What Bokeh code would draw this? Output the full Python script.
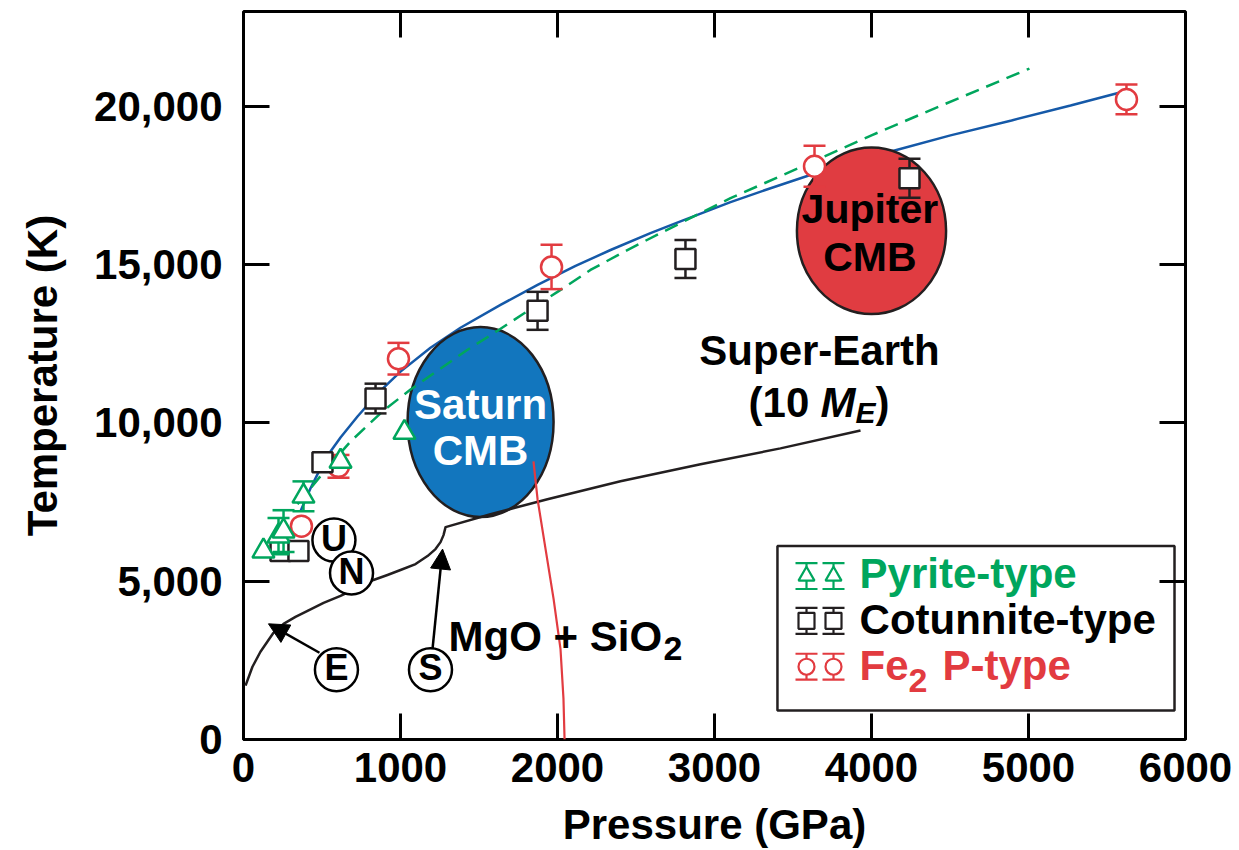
import numpy as np
from bokeh.plotting import figure
from bokeh.models import Range1d, LinearAxis, FixedTicker, Arrow, NormalHead, Label, NumeralTickFormatter
from bokeh.core.properties import value
from bokeh.embed import file_html
from bokeh.resources import INLINE

# ---------------- data ----------------
x_ticks = [0, 1000, 2000, 3000, 4000, 5000, 6000]
y_ticks = [0, 5000, 10000, 15000, 20000]

pyrite_p = [127, 223, 255, 382, 618, 1025]
pyrite_t = [5950, 6425, 6585, 7685, 8787, 9700]
pyrite_err = [0, 570, 660, 470, 0, 0]

cotunnite_p = [236, 350, 503, 841, 1873, 2815, 4242]
cotunnite_t = [5953, 5953, 8756, 10772, 13543, 15181, 17732]
cotunnite_err = [0, 0, 0, 470, 600, 600, 615]

fe2p_p = [369, 605, 987, 1962, 3637, 5624]
fe2p_t = [6740, 8630, 12031, 14929, 18110, 20220]
fe2p_err = [0, 360, 500, 700, 650, 470]

blue_p = [363, 427, 490, 554, 618, 726, 860, 1000, 1191, 1382, 1637, 1873, 2115, 2338, 2592,
          2771, 3102, 3357, 3643, 3898, 4153, 4503, 4892, 5268, 5631]
blue_t = [7213, 7937, 8567, 9102, 9543, 10205, 10961, 11622, 12378, 13008, 13732, 14362, 14961, 15465, 16000,
          16346, 16976, 17417, 17890, 18268, 18614, 19087, 19559, 20031, 20504]

green_p = [344, 510, 682, 892, 1064, 1236, 1427, 1618, 1783, 2000, 2210, 2433, 2656, 3102,
           3548, 4000, 4446, 5006]
green_t = [7433, 8441, 9417, 10394, 11055, 11654, 12315, 12913, 13449, 14142, 14835, 15433, 16000, 17102,
           18079, 19087, 20031, 21197]

earth_p = [13, 57, 108, 191, 255, 331, 408, 510, 618, 726, 828, 917, 1000, 1096, 1172, 1223, 1255,
           1274, 1287, 1573, 1936, 2401, 2911, 3420, 3930]
earth_t = [1701, 2299, 2772, 3370, 3654, 3874, 4063, 4315, 4535, 4787, 5039, 5197, 5354, 5543, 5795, 6016, 6236,
           6457, 6709, 7118, 7591, 8157, 8693, 9197, 9764]

red_p = [1847, 1873, 1924, 1975, 2019, 2038, 2045]
red_t = [8787, 7591, 6016, 4441, 2866, 1291, 0]

saturn = dict(x=1510, y=10030, w=930, h=6000)
jupiter = dict(x=4000, y=16070, w=950, h=5260)

planet_letters = ["U", "N", "E", "S"]
planet_p = [576, 688, 592, 1191]
planet_t = [6299, 5260, 2205, 2205]

# ---------------- styles ----------------
GREEN = "#00a65d"
RED = "#e23b40"
BLACK = "#231f20"
BLUE_LINE = "#1559a8"
SATURN_FILL = "#1276be"
JUPITER_FILL = "#e03c41"
FONT = value("Liberation Sans")
YO = -15  # baseline correction for text glyphs (pixels)

p = figure(width=1239, height=850, x_range=Range1d(0, 6000), y_range=Range1d(0, 23000),
           output_backend="svg", toolbar_location=None,
           min_border_left=243, min_border_right=54, min_border_top=11, min_border_bottom=109)
p.grid.visible = False
p.outline_line_color = "black"
p.outline_line_width = 3
p.background_fill_color = "white"
p.border_fill_color = "white"

def style_axis(ax, labels=True):
    ax.major_tick_in = 26
    ax.major_tick_out = 0
    ax.minor_tick_line_color = None
    ax.major_tick_line_width = 3
    ax.major_tick_line_color = "black"
    ax.axis_line_color = None
    if labels:
        ax.major_label_text_font = "Liberation Sans"
        ax.major_label_text_font_style = "bold"
        ax.major_label_text_font_size = "42px"
        ax.major_label_text_color = "black"
        ax.axis_label_text_font = "Liberation Sans"
        ax.axis_label_text_font_style = "bold"
        ax.axis_label_text_font_size = "42px"
        ax.axis_label_text_color = "black"
    else:
        ax.major_label_text_font_size = "0px"
        ax.major_label_text_color = None
        ax.major_label_standoff = 0

p.xaxis.ticker = FixedTicker(ticks=x_ticks)
p.yaxis.ticker = FixedTicker(ticks=y_ticks)
p.yaxis.formatter = NumeralTickFormatter(format="0,0")
p.xaxis.axis_label = "Pressure (GPa)"
p.yaxis.axis_label = "Temperature (K)"
style_axis(p.xaxis[0]); style_axis(p.yaxis[0])
p.xaxis.major_label_standoff = 13
p.xaxis.axis_label_standoff = 16
p.yaxis.major_label_standoff = 21
p.yaxis.axis_label_standoff = 25

top_ax = LinearAxis(ticker=FixedTicker(ticks=x_ticks[1:-1]))
right_ax = LinearAxis(ticker=FixedTicker(ticks=y_ticks[1:]))
style_axis(top_ax, False); style_axis(right_ax, False)
p.add_layout(top_ax, "above")
p.add_layout(right_ax, "right")

# curves and regions
p.line(blue_p, blue_t, line_color=BLUE_LINE, line_width=2.5)
p.ellipse(x=[saturn["x"]], y=[saturn["y"]], width=[saturn["w"]], height=[saturn["h"]],
          fill_color=SATURN_FILL, line_color=BLACK, line_width=2.5)
p.ellipse(x=[jupiter["x"]], y=[jupiter["y"]], width=[jupiter["w"]], height=[jupiter["h"]],
          fill_color=JUPITER_FILL, line_color=BLACK, line_width=2.5)
p.line(green_p, green_t, line_color=GREEN, line_width=2.5, line_dash="14 8")
p.line(earth_p, earth_t, line_color=BLACK, line_width=2.5, line_join="round")
p.line(red_p, red_t, line_color=RED, line_width=2.2)

def txt(x, y, s, color="black", size="42px", align="center", style="bold"):
    p.text(x=[x], y=[y], text=[s], text_font=FONT, text_font_style=style,
           text_font_size=value(size), text_color=color, text_align=align,
           text_baseline="alphabetic", y_offset=YO)

txt(saturn["x"], 10110, "Saturn", "white")
txt(saturn["x"], 8661, "CMB", "white")
txt(jupiter["x"] - 10, 16283, "Jupiter", "black", "41px")
txt(jupiter["x"] - 10, 14772, "CMB", "black", "41px")

# error bars + markers
def series(px, pt, perr, color, marker, size):
    px = np.array(px, float); pt = np.array(pt, float); pe = np.array(perr, float)
    m = pe > 0
    p.segment(px[m], pt[m] - pe[m], px[m], pt[m] + pe[m], line_color=color, line_width=2.5)
    p.scatter(np.concatenate([px[m], px[m]]), np.concatenate([pt[m] - pe[m], pt[m] + pe[m]]),
              marker="dash", size=22, line_color=color, line_width=2.5)
    p.scatter(px, pt, marker=marker, size=size, fill_color="white", line_color=color, line_width=2.5)

series(fe2p_p, fe2p_t, fe2p_err, RED, "circle", 21)
series(cotunnite_p, cotunnite_t, cotunnite_err, BLACK, "square", 20)
series(pyrite_p, pyrite_t, pyrite_err, GREEN, "triangle", 22)

# planet labels
p.scatter(planet_p, planet_t, marker="circle", size=43, fill_color="white", line_color="black", line_width=2.5)
p.text(x=planet_p, y=planet_t, text=planet_letters, text_font=FONT, text_font_style="bold",
       text_font_size=value("36px"), text_color="black", text_align="center",
       text_baseline="alphabetic", y_offset=13 + YO)
p.add_layout(Arrow(end=NormalHead(size=20, fill_color="black", line_color="black"),
                   x_start=484, y_start=2740, x_end=159, y_end=3654, line_width=2.5, line_color="black"))
p.add_layout(Arrow(end=NormalHead(size=20, fill_color="black", line_color="black"),
                   x_start=1204, y_start=2866, x_end=1268, y_end=6016, line_width=2.5, line_color="black"))

# annotations
txt(1306, 2772, "MgO + SiO", align="left")
txt(2675, 2394, "2", size="34px", align="left")
txt(3669, 11811, "Super-Earth")
txt(3217, 10173, "(10 ", align="left")
txt(3675, 10173, "M", align="left", style="bold italic")
txt(3898, 9858, "E", size="30px", align="left", style="bold italic")
txt(4025, 10173, ")", align="left")

# legend (manual)
p.quad(left=[3401], right=[5930], top=[6110], bottom=[913], fill_color="white",
       line_color=BLACK, line_width=2.5)
leg_x = [3586, 3758]
leg_rows = [(5165, GREEN, "triangle"), (3748, BLACK, "square"), (2299, RED, "circle")]
for yc, col, mk in leg_rows:
    for lx in leg_x:
        p.segment([lx], [yc - 410], [lx], [yc + 410], line_color=col, line_width=2.2)
        p.scatter([lx, lx], [yc - 410, yc + 410], marker="dash", size=22, line_color=col, line_width=2.2)
        p.scatter([lx], [yc], marker=mk, size=16, fill_color="white", line_color=col, line_width=2.2)
txt(3924, 4756, "Pyrite-type", GREEN, align="left")
txt(3924, 3307, "Cotunnite-type", "black", align="left")
txt(3924, 1858, "Fe", RED, align="left")
txt(4236, 1386, "2", RED, size="34px", align="left")
txt(4452, 1858, "P-type", RED, align="left")

p.add_layout(Label(x=6178, y=21921, text="*", text_font="Liberation Sans", text_font_style="bold",
                   text_font_size="40px", text_align="center", text_baseline="alphabetic",
                   text_color="black"))

open("out.html", "w").write(file_html(p, INLINE))
